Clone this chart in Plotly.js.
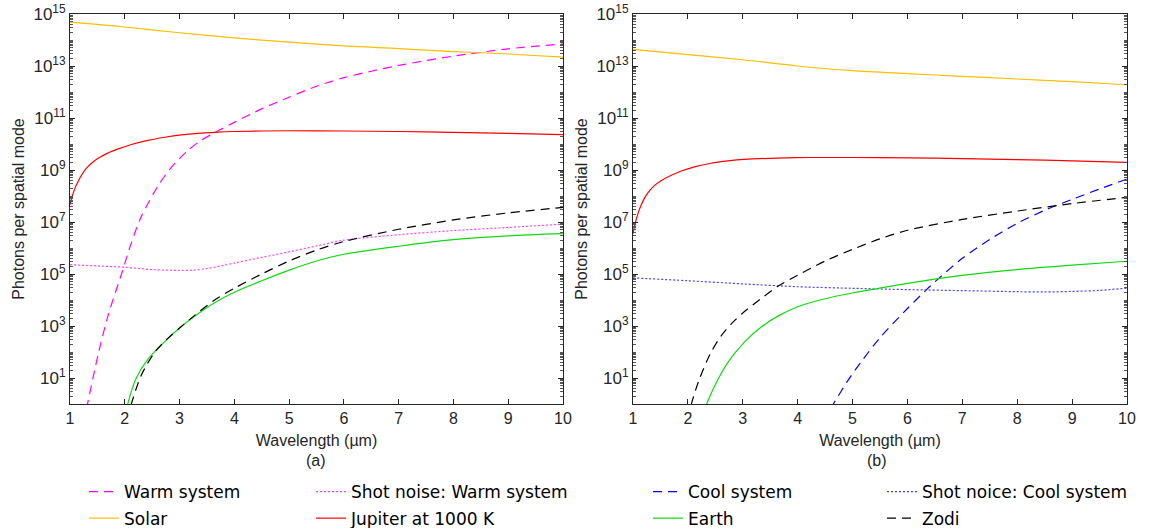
<!DOCTYPE html>
<html>
<head>
<meta charset="utf-8">
<script src="https://cdn.plot.ly/plotly-3.0.1.min.js"></script>
<style>
  html, body { margin: 0; padding: 0; background: #ffffff; }
  #chart { width: 1149px; height: 528px; }
</style>
</head>
<body>
<div id="chart"></div>
<script>
// Wavelength in µm, photon counts per spatial mode.
const wavelengthTicks = [1, 2, 3, 4, 5, 6, 7, 8, 9, 10];
const photonTickVals = [1e1, 1e3, 1e5, 1e7, 1e9, 1e11, 1e13, 1e15];
const photonTickText = ['10<sup>1</sup>', '10<sup>3</sup>', '10<sup>5</sup>', '10<sup>7</sup>',
                        '10<sup>9</sup>', '10<sup>11</sup>', '10<sup>13</sup>', '10<sup>15</sup>'];

// (a) warm system
const warmX = [1.3, 1.52, 1.7, 1.94, 2.12, 2.3, 2.61, 2.85, 3.15, 3.4, 3.67, 4, 4.5, 5, 5.5, 6, 6.5, 7, 8, 9, 10];
const warmY = [0.63, 91, 2.75e3, 1.0e5, 1.58e6, 1.58e7, 2.5e8, 1.26e9, 5.6e9, 1.41e10, 2.95e10, 6.8e10,
               2.24e11, 6.3e11, 1.66e12, 3.55e12, 6.3e12, 1.05e13, 2.4e13, 4.57e13, 7.1e13];

const shotWarmX = [1, 1.5, 2, 2.5, 3, 3.25, 3.5, 4, 4.5, 5, 5.5, 6, 7, 8, 9, 10];
const shotWarmY = [2.3e5, 2.04e5, 1.82e5, 1.48e5, 1.38e5, 1.41e5, 1.62e5, 2.63e5, 4.37e5, 7.1e5,
                   1.2e6, 2.0e6, 3.24e6, 4.68e6, 6.17e6, 8.3e6];

const solarAX = [1, 1.5, 2, 3, 4, 5, 6, 7, 8, 9, 10];
const solarAY = [4.9e14, 3.98e14, 3.16e14, 1.9e14, 1.2e14, 8.3e13, 5.9e13, 4.7e13, 3.6e13, 2.9e13, 2.2e13];

const jupiterAX = [1.0, 1.03, 1.06, 1.1, 1.15, 1.21, 1.3, 1.4, 1.52, 1.7, 1.88, 2.12, 2.42, 2.73, 3.03,
                   3.33, 3.64, 4, 5, 6, 7, 8, 9, 10];
const jupiterAY = [4.7e7, 8.3e7, 1.32e8, 2.24e8, 3.72e8, 6.3e8, 1.17e9, 1.86e9, 2.88e9, 4.57e9, 6.46e9,
                   9.55e9, 1.38e10, 1.82e10, 2.24e10, 2.57e10, 2.82e10, 3.02e10, 3.24e10, 3.16e10,
                   3.02e10, 2.82e10, 2.57e10, 2.29e10];

const earthAX = [2.0, 2.06, 2.21, 2.42, 2.73, 3.0, 3.33, 3.64, 4, 4.5, 5, 5.5, 6, 7, 8, 9, 10];
const earthAY = [0.25, 1.1, 10, 52, 251, 832, 2.88e3, 7.9e3, 2.0e4, 5.5e4, 1.41e5, 3.16e5, 5.75e5,
                 1.17e6, 2.09e6, 2.95e6, 3.55e6];

const zodiAX = [2.05, 2.12, 2.3, 2.55, 2.8, 3.0, 3.27, 3.64, 4, 4.5, 5, 5.5, 6, 7, 8, 9, 10];
const zodiAY = [0.25, 1.0, 12.6, 100, 355, 832, 2.51e3, 1.0e4, 2.82e4, 1.0e5, 3.16e5, 8.3e5, 1.78e6,
                5.25e6, 1.2e7, 2.24e7, 3.63e7];

// (b) cool system
const coolX = [4.6, 4.65, 4.9, 5.15, 5.5, 6, 6.33, 6.5, 7, 7.5, 8, 8.5, 9, 9.5, 10];
const coolY = [0.68, 1.0, 7.1, 40, 355, 4.7e3, 2.29e4, 5.0e4, 4.0e5, 2.14e6, 8.9e6, 2.82e7, 7.4e7, 1.86e8, 4.47e8];

const shotCoolX = [1, 2, 3, 4, 5, 6, 7, 8, 8.5, 9, 9.5, 10];
const shotCoolY = [7.1e4, 5.5e4, 4.17e4, 3.24e4, 2.82e4, 2.51e4, 2.29e4, 2.09e4, 2.04e4, 2.14e4, 2.34e4, 2.88e4];

const solarBX = [1, 2, 3, 4, 5, 6, 7, 8, 9, 10];
const solarBY = [4.4e13, 2.75e13, 1.74e13, 1.0e13, 6.6e12, 5.1e12, 4.0e12, 3.16e12, 2.5e12, 1.9e12];

const jupiterBX = [1.0, 1.03, 1.06, 1.1, 1.15, 1.21, 1.3, 1.4, 1.52, 1.7, 1.88, 2.12, 2.42, 2.73, 3.03,
                   3.64, 4.24, 5, 6, 7, 8, 9, 10];
const jupiterBY = [3.47e6, 7.1e6, 1.26e7, 2.4e7, 4.47e7, 8.3e7, 1.58e8, 2.63e8, 3.98e8, 6.3e8, 9.1e8,
                   1.32e9, 1.82e9, 2.24e9, 2.57e9, 2.88e9, 3.02e9, 3.02e9, 2.95e9, 2.75e9, 2.51e9,
                   2.24e9, 1.95e9];

const earthBX = [2.3, 2.35, 2.55, 2.73, 3.03, 3.33, 3.64, 4, 4.5, 5, 5.45, 6, 7, 8, 9, 10];
const earthBY = [0.55, 1.1, 8.9, 40, 240, 891, 2.4e3, 5.5e3, 1.12e4, 1.86e4, 2.75e4, 4.37e4, 8.9e4,
                 1.48e5, 2.19e5, 3.09e5];

const zodiBX = [2.0, 2.07, 2.2, 2.4, 2.6, 2.8, 3.0, 3.3, 3.64, 4, 4.5, 5, 5.5, 6, 7, 8, 9, 10];
const zodiBY = [0.25, 1.1, 7.9, 79, 398, 1.26e3, 3.16e3, 1.0e4, 3.4e4, 8.9e4, 3.16e5, 8.9e5, 2.24e6,
                4.8e6, 1.26e7, 2.63e7, 5.1e7, 8.9e7];

const axisColor = '#262626';
const tickFont = { family: 'Liberation Sans, Arial, sans-serif', size: 16, color: axisColor };
const titleFont = { family: 'Liberation Sans, Arial, sans-serif', size: 16, color: axisColor };
const legendFont = { family: 'DejaVu Sans, Verdana, sans-serif', size: 17, color: '#000000' };

// minor ticks: every 2..9 step inside each decade, plus the unlabelled even decades
const minorVals = [];
for (let k = 0; k < 15; k++) {
  for (let m = 1; m <= 9; m++) {
    if (m === 1 && k % 2 === 1) continue;
    minorVals.push(m * Math.pow(10, k));
  }
}

function curve(x, y, name, color, dash, axes, legend, group) {
  return {
    type: 'scatter', mode: 'lines', x: x, y: y, name: name,
    xaxis: axes[0], yaxis: axes[1], legend: legend, legendgroup: group,
    line: { color: color, width: 1.2, dash: dash, shape: 'spline', smoothing: 0.8 },
    hoverinfo: 'skip'
  };
}

const A = ['x', 'y'];
const B = ['x2', 'y2'];
const dashed = '9px,6px';
const dotted = '2px,2px';

const traces = [
  curve(warmX, warmY, 'Warm system', '#FF00FF', dashed, A, 'legend', 'g1'),
  curve(solarAX, solarAY, 'Solar', '#FFBE00', 'solid', A, 'legend', 'g2'),
  curve(shotWarmX, shotWarmY, 'Shot noise: Warm system', '#FF40FF', dotted, A, 'legend2', 'g3'),
  curve(jupiterAX, jupiterAY, 'Jupiter at 1000 K', '#FF0000', 'solid', A, 'legend2', 'g4'),
  curve(earthAX, earthAY, 'Earth', '#11D911', 'solid', A, 'legend3', 'g5'),
  curve(zodiAX, zodiAY, 'Zodi', '#000000', dashed, A, 'legend4', 'g6'),

  curve(coolX, coolY, 'Cool system', '#0000FF', dashed, B, 'legend3', 'g7'),
  curve(shotCoolX, shotCoolY, 'Shot noice: Cool system', '#4040FF', dotted, B, 'legend4', 'g8'),
  curve(solarBX, solarBY, 'Solar', '#FFBE00', 'solid', B, 'legend', 'g2'),
  curve(jupiterBX, jupiterBY, 'Jupiter at 1000 K', '#FF0000', 'solid', B, 'legend2', 'g4'),
  curve(earthBX, earthBY, 'Earth', '#11D911', 'solid', B, 'legend3', 'g5'),
  curve(zodiBX, zodiBY, 'Zodi', '#000000', dashed, B, 'legend4', 'g6')
];
// panel (b) repeats four legend entries already listed by panel (a)
[8, 9, 10, 11].forEach(i => { traces[i].showlegend = false; });
// legend 3/4 order: cool above earth, shot noise above zodi
traces[4].legendrank = 2; traces[6].legendrank = 1;
traces[5].legendrank = 2; traces[7].legendrank = 1;

function xAxis(domain, anchor) {
  return {
    domain: domain, anchor: anchor, range: [1, 10],
    tickmode: 'array', tickvals: wavelengthTicks, ticktext: wavelengthTicks.map(String),
    ticks: 'inside', ticklen: 5, tickwidth: 1, tickcolor: axisColor,
    showline: true, linecolor: axisColor, linewidth: 1, mirror: 'allticks',
    showgrid: false, zeroline: false, tickfont: tickFont, automargin: false,
    title: { text: 'Wavelength (µm)', font: titleFont, standoff: 8 }
  };
}

function yAxis(anchor) {
  return {
    anchor: anchor, type: 'log', range: [0, 15], domain: [0, 1],
    tickmode: 'array', tickvals: photonTickVals, ticktext: photonTickText,
    ticks: 'inside', ticklen: 5, tickwidth: 1, tickcolor: axisColor,
    minor: { tickmode: 'array', tickvals: minorVals, ticks: 'inside', ticklen: 3, tickwidth: 1, tickcolor: '#555555' },
    showline: true, linecolor: axisColor, linewidth: 1, mirror: 'allticks',
    showgrid: false, zeroline: false, tickfont: { family: tickFont.family, size: 17, color: axisColor },
    automargin: false,
    title: { text: 'Photons per spatial mode', font: titleFont, standoff: 4 }
  };
}

function legendAt(px, py) {
  return {
    x: (px - 70) / 1057, y: (404 - py) / 390, xanchor: 'left', yanchor: 'top',
    orientation: 'v', font: legendFont, bgcolor: 'rgba(0,0,0,0)', borderwidth: 0,
    traceorder: 'grouped', tracegroupgap: 1.5,
    itemclick: false, itemdoubleclick: false
  };
}

const layout = {
  width: 1149, height: 528,
  margin: { l: 70, r: 22, t: 14, b: 124, autoexpand: false },
  paper_bgcolor: '#ffffff', plot_bgcolor: '#ffffff',
  xaxis: xAxis([0, 0.4664], 'y'),
  yaxis: yAxis('x'),
  xaxis2: xAxis([0.5326, 1], 'y2'),
  yaxis2: yAxis('x2'),
  legend: legendAt(84, 474),
  legend2: legendAt(311, 474),
  legend3: legendAt(648, 474),
  legend4: legendAt(882, 474),
  annotations: [
    { text: '(a)', xref: 'paper', yref: 'paper', x: (316 - 70) / 1057, y: (404 - 461) / 390,
      showarrow: false, font: titleFont, xanchor: 'center', yanchor: 'middle' },
    { text: '(b)', xref: 'paper', yref: 'paper', x: (877 - 70) / 1057, y: (404 - 461) / 390,
      showarrow: false, font: titleFont, xanchor: 'center', yanchor: 'middle' }
  ],
  showlegend: true
};

Plotly.newPlot('chart', traces, layout, { staticPlot: true, displayModeBar: false });
</script>
</body>
</html>
